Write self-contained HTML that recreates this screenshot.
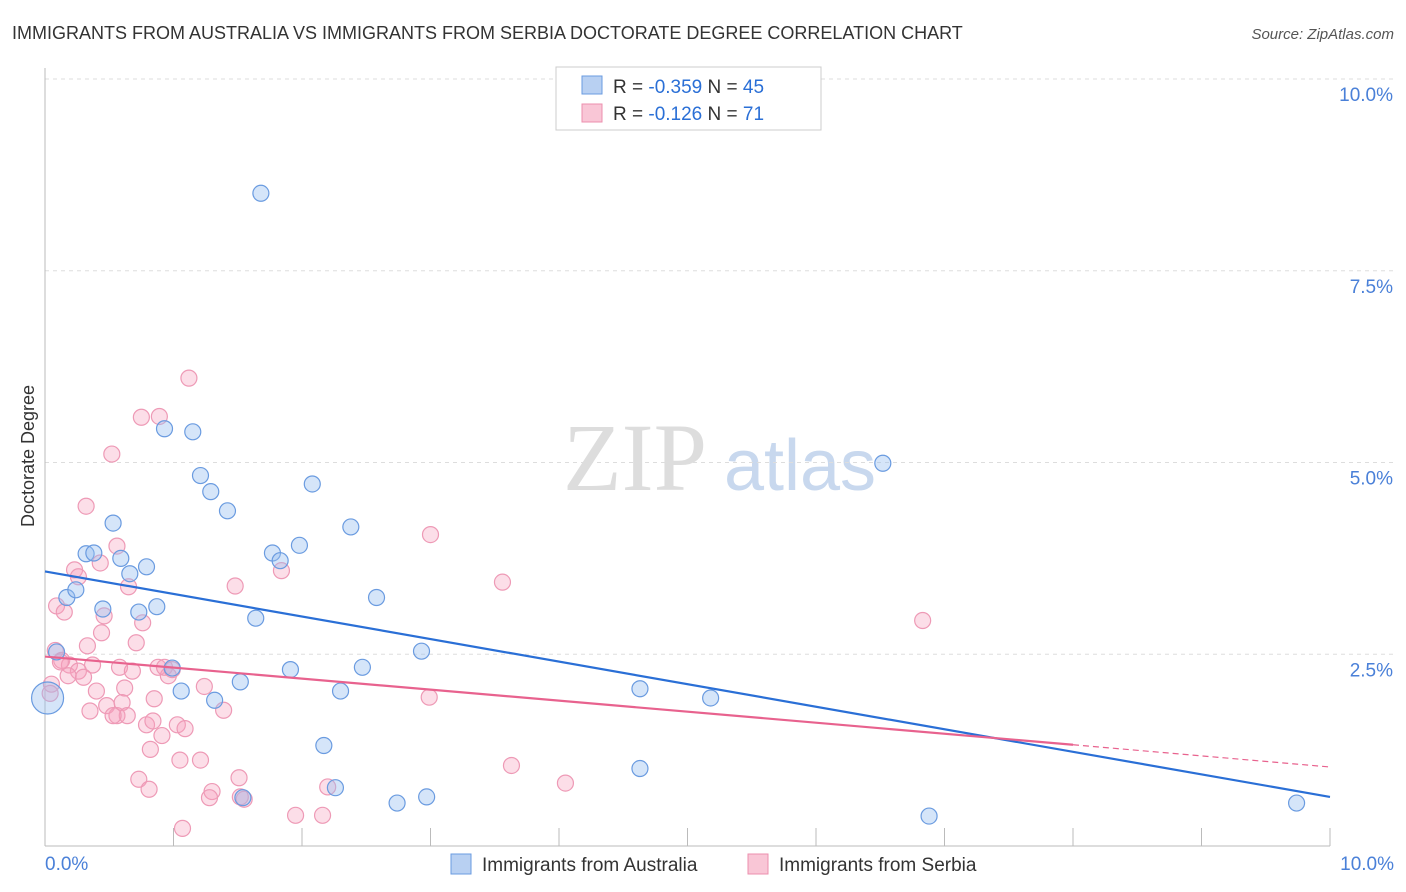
<!DOCTYPE html>
<html><head><meta charset="utf-8"><style>
body{margin:0;background:#fff;font-family:"Liberation Sans",sans-serif;}
svg{display:block}
</style></head><body>
<svg id="chart" width="1406" height="892" xmlns="http://www.w3.org/2000/svg">
<text x="12" y="39" font-size="18" fill="#333">IMMIGRANTS FROM AUSTRALIA VS IMMIGRANTS FROM SERBIA DOCTORATE DEGREE CORRELATION CHART</text>
<text x="1394" y="39" font-size="15" fill="#555" text-anchor="end" font-style="italic">Source: ZipAtlas.com</text>
<text x="34" y="456" font-size="18" fill="#333" text-anchor="middle" transform="rotate(-90 34 456)">Doctorate Degree</text>
<g><text x="635" y="490" font-size="96" fill="#ddd" font-family="Liberation Serif,serif" text-anchor="middle">ZIP</text><text x="800" y="490" font-size="72" fill="#c8d8ee" text-anchor="middle">atlas</text></g>
<g id="grid"></g><g id="axes"></g><g id="pts"></g><g id="lines"></g>
<g>
<rect x="556" y="67" width="265" height="63" fill="#fff" stroke="#ccc"/>
<rect x="582" y="76" width="20" height="18" fill="#b8d0f2" stroke="#6a9be0"/>
<rect x="582" y="104" width="20" height="18" fill="#f9c6d6" stroke="#ec8fae"/>
<text x="613" y="93" font-size="19" fill="#333">R = <tspan fill="#2a6fd6">-0.359</tspan>   N = <tspan fill="#2a6fd6">45</tspan></text>
<text x="613" y="120" font-size="19" fill="#333">R =  <tspan fill="#2a6fd6">-0.126</tspan>   N =  <tspan fill="#2a6fd6">71</tspan></text>
</g>
<g>
<rect x="451" y="854" width="20" height="20" fill="#b8d0f2" stroke="#6a9be0"/>
<text x="482" y="871" font-size="19" fill="#333">Immigrants from Australia</text>
<rect x="748" y="854" width="20" height="20" fill="#f9c6d6" stroke="#ec8fae"/>
<text x="779" y="871" font-size="19" fill="#333">Immigrants from Serbia</text>
</g>
</svg>
<script>
const yTicks=[2.5,5.0,7.5,10.0];
const auX=[1.68,0.93,1.15,1.21,1.29,1.42,2.08,2.38,6.52,0.53,0.32,0.38,0.59,0.79,0.66,1.77,1.83,1.98,0.17,0.24,0.45,0.73,0.87,1.64,2.58,2.93,0.09,0.99,1.06,1.32,1.52,1.91,2.30,2.47,2.17,4.63,5.18,4.63,2.26,1.54,2.74,2.97,6.88,9.74,0.02];
const auY=[8.51,5.44,5.40,4.83,4.62,4.37,4.72,4.16,4.99,4.21,3.81,3.82,3.75,3.64,3.55,3.82,3.72,3.92,3.24,3.34,3.09,3.05,3.12,2.97,3.24,2.54,2.53,2.32,2.02,1.90,2.14,2.30,2.02,2.33,1.31,2.05,1.93,1.01,0.76,0.63,0.56,0.64,0.39,0.56,1.93];
const auR=[8,8,8,8,8,8,8,8,8,8,8,8,8,8,8,8,8,8,8,8,8,8,8,8,8,8,8,8,8,8,8,8,8,8,8,8,8,8,8,8,8,8,8,8,16];
const srX=[1.12,0.75,0.89,0.52,0.32,3.00,3.56,6.83,0.56,0.43,0.23,0.26,0.65,1.48,1.84,0.09,0.15,0.46,0.44,0.76,0.71,0.33,0.08,0.13,0.19,0.37,0.58,0.88,0.68,0.96,0.26,0.30,0.18,0.05,0.40,0.62,1.24,0.85,2.99,0.35,0.48,0.56,0.60,0.64,1.39,0.79,0.84,1.03,1.09,0.91,0.82,1.05,1.21,0.73,0.81,1.51,1.30,1.28,1.55,2.20,3.63,4.05,1.07,1.95,2.16,0.04,0.12,0.53,0.93,0.99,1.52];
const srY=[6.10,5.59,5.60,5.11,4.43,4.06,3.44,2.94,3.91,3.69,3.60,3.51,3.38,3.39,3.59,3.13,3.05,3.00,2.78,2.91,2.65,2.61,2.55,2.42,2.36,2.36,2.33,2.33,2.28,2.22,2.28,2.20,2.22,2.11,2.02,2.06,2.08,1.92,1.94,1.76,1.83,1.70,1.87,1.70,1.77,1.58,1.63,1.58,1.53,1.44,1.26,1.12,1.12,0.87,0.74,0.89,0.71,0.63,0.61,0.77,1.05,0.82,0.23,0.40,0.40,1.99,2.40,1.70,2.33,2.30,0.64];
const auLine=[3.58,0.64];
const srLine=[2.47,1.32,1.03];
const X=v=>45+v*128.5, Y=v=>846-v*76.7;
const NS='http://www.w3.org/2000/svg';
function mk(t,p,a){const e=document.createElementNS(NS,t);for(const k in a)e.setAttribute(k,a[k]);document.getElementById(p).appendChild(e);return e;}
yTicks.forEach(t=>{const l=mk('line','grid',{x1:45,x2:1395,y1:Y(t),y2:Y(t),stroke:'#ddd','stroke-dasharray':'4 4'});


const s=mk('text','axes',{x:1393,y:Y(t)+22,'font-size':19,fill:'#4a80d8','text-anchor':'end'});s.textContent=t.toFixed(1)+'%';

});
const ax=mk('line','axes',{x1:45,x2:1330,y1:846,y2:846,stroke:'#bbb'});


const ay=mk('line','axes',{x1:45,x2:45,y1:68,y2:846,stroke:'#bbb'});


for(let i=1;i<=10;i++){const t=mk('line','axes',{x1:X(i),x2:X(i),y1:828,y2:846,stroke:'#bbb'});

}
const x0=mk('text','axes',{x:45,y:870,'font-size':19,fill:'#4a80d8'});x0.textContent='0.0%';


const x1=mk('text','axes',{x:1394,y:870,'font-size':19,fill:'#4a80d8','text-anchor':'end'});x1.textContent='10.0%';


srX.forEach((v,i)=>{const c=mk('circle','pts',{cx:X(v),cy:Y(srY[i]),r:8,fill:'rgba(246,160,190,0.35)',stroke:'#ee9ab6','stroke-width':1.2});

});
auX.forEach((v,i)=>{const c=mk('circle','pts',{cx:X(v),cy:Y(auY[i]),r:auR[i],fill:'rgba(150,190,240,0.4)',stroke:'#6a9be0','stroke-width':1.2});

});
const bl=mk('line','lines',{x1:X(0),y1:Y(auLine[0]),x2:X(10),y2:Y(auLine[1]),stroke:'#2a6fd6','stroke-width':2.2});


const pl=mk('line','lines',{x1:X(0),y1:Y(srLine[0]),x2:X(8),y2:Y(srLine[1]),stroke:'#e8628e','stroke-width':2.2});


const pd=mk('line','lines',{x1:X(8),y1:Y(srLine[1]),x2:X(10),y2:Y(srLine[2]),stroke:'#e8628e','stroke-width':1.2,'stroke-dasharray':'6 4'});


</script>
</body></html>
